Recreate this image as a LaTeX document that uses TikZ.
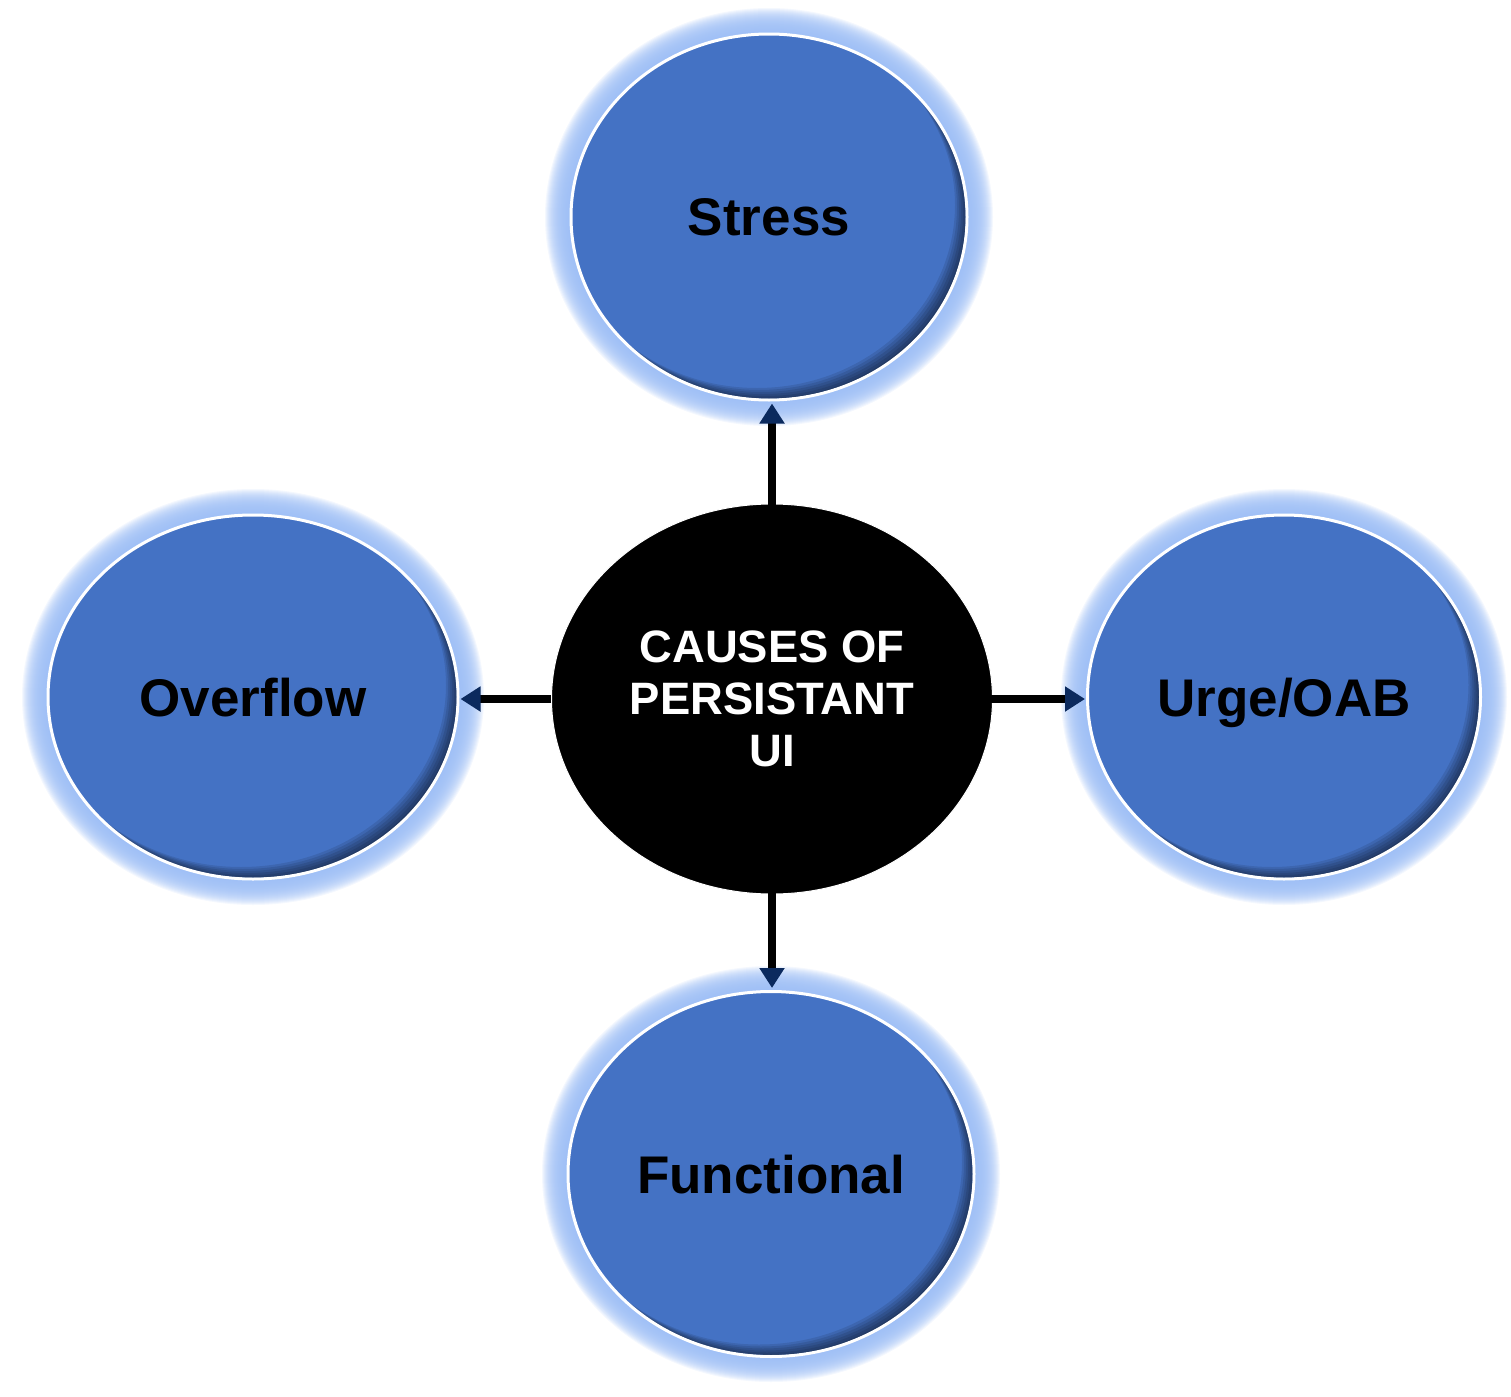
\documentclass[tikz,border=0pt]{standalone}
\usepackage{fontspec}
\setmainfont{Liberation Sans}
\usetikzlibrary{shapes.geometric,arrows.meta}
\definecolor{nodeblue}{HTML}{4472C4}
\definecolor{glowblue}{HTML}{9ABCF5}
\definecolor{arrowhead}{HTML}{0B2A5E}
\tikzset{
  cause/.style={ellipse, draw=white, line width=1.5pt, fill=nodeblue, inner sep=0pt,
    font=\bfseries\fontsize{26.5}{30}\selectfont, text=black, text depth=0pt},
  core/.style={ellipse, draw=white, line width=0.5pt, fill=black, inner sep=0pt,
    font=\bfseries\fontsize{22.7}{26}\selectfont, text=white, align=center},
  link/.style={line width=3.7pt, draw=black, line cap=butt,
    -{Triangle[length=10pt,width=12pt,color=arrowhead]}},
  glowlayer/.style={fill=glowblue, opacity=0.11},
  shadelayer/.style={fill=black, opacity=0.1, even odd rule}
}
\begin{document}
\begin{tikzpicture}[x=0.5pt,y=-0.5pt]
\useasboundingbox (0,0) rectangle (1511,1397);
% glows
\foreach \cx/\cy/\rx/\ry in {769/217/198/183, 253/697/205/182, 1284/697/197/182, 771/1174/203/182}{
  \foreach \k in {26,25,...,1}{
    \fill[glowlayer] (\cx,\cy) ellipse [x radius={(\rx+\k)*0.5pt}, y radius={(\ry+\k)*0.5pt}];
  }
}
% nodes
\node[cause, minimum width=198pt, minimum height=183pt] (stress) at (769,217) {Stress};
\node[cause, minimum width=205pt, minimum height=182pt] (overflow) at (253,697) {Overflow};
\node[cause, minimum width=196.5pt, minimum height=182pt] (urge) at (1284,697) {Urge/OAB};
\node[cause, minimum width=203pt, minimum height=182.5pt] (functional) at (771,1174) {Functional};
\node[core, minimum width=220.5pt, minimum height=195pt] (core) at (772,699) {CAUSES OF\\PERSISTANT\\UI};
% inner shadows (bottom-right)
\foreach \n/\rx/\ry in {stress/99/91.5, overflow/102.5/91, urge/98.25/91, functional/101.5/91.25}{
  \begin{scope}
    \clip (\n.center) ellipse [x radius={\rx pt - 0.8pt}, y radius={\ry pt - 0.8pt}];
    \foreach \d in {2,4,...,12}{
      \fill[shadelayer] ([shift={(-500,-500)}]\n.center) rectangle ([shift={(500,500)}]\n.center)
        ([shift={(-\d,-\d)}]\n.center) ellipse [x radius={\rx pt}, y radius={\ry pt}];
    }
  \end{scope}
}
% connectors
\draw[link, shorten <=-2pt, shorten >=1pt] (core.north) -- (core.north |- stress.south);
\draw[link, shorten <=-2pt, shorten >=1pt] (core.south) -- (core.south |- functional.north);
\draw[link, shorten <=0pt, shorten >=0.5pt] (core.west) -- (core.west -| overflow.east);
\draw[link, shorten <=-1pt, shorten >=0.5pt] (core.east) -- (core.east -| urge.west);
\end{tikzpicture}
\end{document}
